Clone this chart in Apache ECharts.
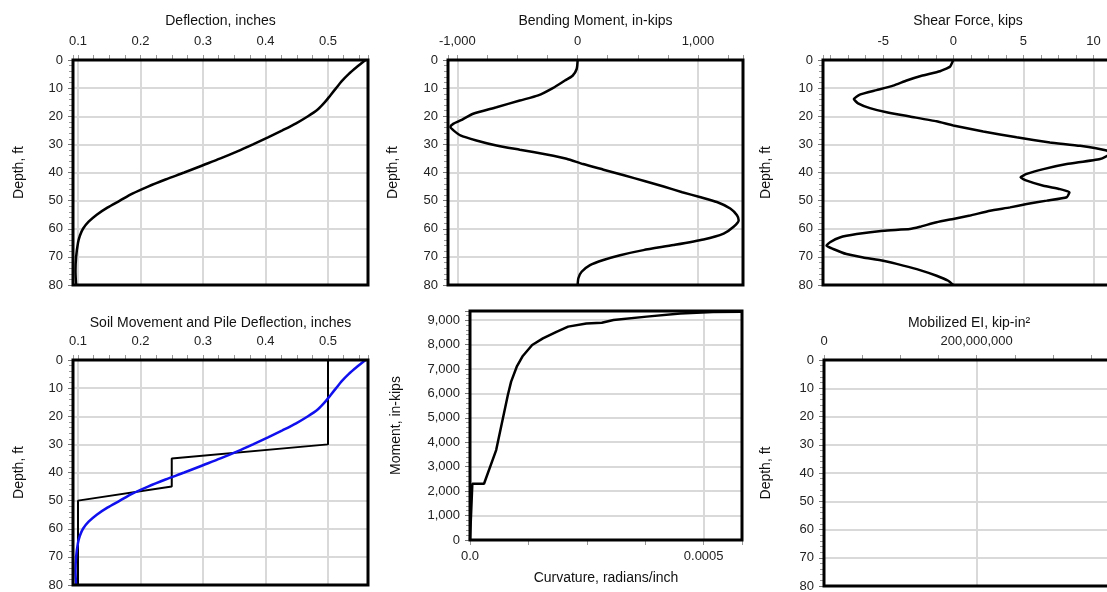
<!DOCTYPE html>
<html>
<head>
<meta charset="utf-8">
<script src="https://cdn.jsdelivr.net/npm/echarts@6/dist/echarts.min.js"></script>
<style>
html,body{margin:0;padding:0;background:#fff;}
#chart{width:1107px;height:592px;}
</style>
</head>
<body>
<div id="chart"></div>
<script>
// ---- Data ----
const depthTicks = [0, 10, 20, 30, 40, 50, 60, 70, 80];

const deflDepth = [0, 2.5, 5, 7.5, 10, 12.5, 15, 17.5, 20, 22.5, 25, 27.5, 30, 32.5, 35, 37.5, 40, 42.5, 45, 47.5, 50, 52.5, 55, 57.5, 60, 62.5, 65, 70, 75, 80];
const deflection = [0.560, 0.546, 0.533, 0.522, 0.513, 0.504, 0.495, 0.484, 0.468, 0.449, 0.427, 0.404, 0.380, 0.355, 0.328, 0.299, 0.270, 0.240, 0.212, 0.187, 0.167, 0.147, 0.130, 0.117, 0.108, 0.103, 0.100, 0.097, 0.096, 0.097];

const momentDepth = [0, 3.2, 5.6, 7.3, 9.9, 12.6, 14.4, 16.8, 19.1, 21.5, 22.7, 23.8, 25.1, 26.8, 28.6, 30.4, 31.9, 33.6, 35.1, 37, 39, 41, 43, 45, 47, 48.7, 50.5, 52.8, 55.2, 57, 59.3, 61.7, 63.8, 65.8, 67.6, 69.4, 71.1, 72.9, 75.3, 77.6, 80];
const moment = [0, -8, -42, -106, -203, -328, -481, -675, -869, -975, -1035, -1058, -1030, -975, -842, -675, -481, -258, -92, 45, 215, 385, 555, 715, 870, 1015, 1158, 1269, 1325, 1339, 1297, 1214, 1047, 797, 547, 353, 214, 103, 33, 6, 0];

const shearDepth = [0, 2.4, 4, 5.6, 7.3, 9.1, 10.7, 12.3, 13.9, 15.4, 17.1, 18.6, 20.1, 21.8, 23.3, 25.4, 27.5, 29.3, 30.5, 32.2, 33.3, 35.2, 37, 38.8, 40.5, 41.7, 42.9, 44.7, 45.9, 47, 48.8, 50, 51.2, 52.4, 53.6, 55.3, 56.5, 57.7, 59.3, 60.1, 60.7, 61.9, 63.1, 64.8, 66, 67.2, 69, 70.2, 71.4, 73.1, 74.7, 76.7, 78.5, 80];
const shear = [0, -0.24, -0.95, -2.26, -3.33, -4.29, -5.48, -6.67, -7.1, -6.8, -5.95, -4.76, -3.1, -1.19, 0, 2.14, 4.52, 6.9, 9.05, 10.95, 11.2, 10.48, 8.1, 6.43, 5.24, 4.8, 5.24, 6.43, 7.62, 8.29, 8.1, 6.67, 5.24, 4.05, 2.62, 1.19, 0, -1.19, -2.38, -3.1, -5.0, -6.9, -8.1, -8.8, -9.05, -8.57, -7.62, -6.43, -5.0, -3.57, -2.38, -1.19, -0.36, 0];

const soilDepth = [0, 30, 35, 45, 50, 80];
const soilMovement = [0.5, 0.5, 0.25, 0.25, 0.1, 0.1];

const curvature = [0, 0.000005, 0.00003, 0.000056, 0.000081, 0.000088, 0.0001, 0.000113, 0.000133, 0.000156, 0.000185, 0.00021, 0.000249, 0.000282, 0.000307, 0.000378, 0.00045, 0.00052, 0.00058];
const mcMoment = [0, 2300, 2300, 3680, 5930, 6480, 7090, 7530, 7980, 8250, 8520, 8730, 8860, 8890, 9000, 9140, 9270, 9330, 9340];

const mobilizedEI = []; // no values plotted

// ---- helpers ----
const FONT = "'Liberation Sans', Arial, sans-serif";
const zip = (xs, ys) => xs.map((x, i) => [x, ys[i]]);
const near = (v, step) => Math.abs(v / step - Math.round(v / step)) < 1e-6;
const fmtComma = v => Math.round(v).toLocaleString('en-US');

const gridStyle = { show: true, borderColor: '#000', borderWidth: 3, backgroundColor: 'transparent', z: 10, outerBoundsMode: 'none', containLabel: false };
const splitLine = { show: true, showMinLine: false, showMaxLine: false, lineStyle: { color: '#d9d9d9', width: 2 } };
const labelStyle = { color: '#222', fontSize: 13, fontFamily: FONT };
const nameStyle = { color: '#111', fontSize: 14, fontFamily: FONT };

function xTop(idx, name, min, max, opts, fmt, gap) {
  return Object.assign({
    type: 'value', gridIndex: idx, position: 'top', min: min, max: max,
    name: name, nameLocation: 'middle', nameGap: gap, nameTextStyle: nameStyle,
    axisLine: { show: false, onZero: false },
    axisTick: { show: true, length: 5, lineStyle: { color: '#999', width: 1 } },
    minorTick: { show: true, splitNumber: 4, length: 5, lineStyle: { color: '#999', width: 1 } },
    splitLine: splitLine,
    axisLabel: Object.assign({ margin: 12, formatter: fmt }, labelStyle)
  }, opts);
}
function yDepth(idx, gap) {
  return {
    type: 'value', gridIndex: idx, inverse: true, min: 0, max: 80, interval: 10,
    name: 'Depth, ft', nameLocation: 'middle', nameGap: gap, nameRotate: 90, nameTextStyle: nameStyle,
    axisLine: { show: false, onZero: false },
    axisTick: { show: true, length: 5, lineStyle: { color: '#777', width: 1 } },
    minorTick: { show: true, splitNumber: 5, length: 4, lineStyle: { color: '#999', width: 1 } },
    splitLine: splitLine,
    axisLabel: Object.assign({ margin: 10, formatter: v => (depthTicks.indexOf(v) >= 0 ? String(v) : '') }, labelStyle)
  };
}

const fmtDefl = v => near(v, 0.1) ? (Math.round(v * 10) / 10).toFixed(1) : '';

const option = {
  animation: false,
  backgroundColor: '#fff',
  grid: [
    Object.assign({ left: 73, top: 60, width: 295, height: 225 }, gridStyle),
    Object.assign({ left: 448, top: 60, width: 295, height: 225 }, gridStyle),
    Object.assign({ left: 823, top: 60, right: -6, height: 225 }, gridStyle),
    Object.assign({ left: 73, top: 360, width: 295, height: 225 }, gridStyle),
    Object.assign({ left: 470, top: 311, width: 272, height: 229 }, gridStyle),
    Object.assign({ left: 824, top: 360, right: -7, height: 226 }, gridStyle)
  ],
  xAxis: [
    xTop(0, 'Deflection, inches', 0.092, 0.564, { splitNumber: 5 }, fmtDefl, 32),
    xTop(1, 'Bending Moment, in-kips', -1078, 1375, { splitNumber: 2 }, v => near(v, 1000) ? fmtComma(v) : '', 32),
    xTop(2, 'Shear Force, kips', -9.3, 11.4, { splitNumber: 4 }, v => near(v, 5) ? String(Math.round(v)) : '', 32),
    xTop(3, 'Soil Movement and Pile Deflection, inches', 0.092, 0.564, { splitNumber: 5 }, fmtDefl, 30),
    {
      type: 'value', gridIndex: 4, position: 'bottom', min: 0, max: 0.000582, interval: 0.0005,
      name: 'Curvature, radians/inch', nameLocation: 'middle', nameGap: 31, nameTextStyle: nameStyle,
      axisLine: { show: false, onZero: false },
      axisTick: { show: true, length: 5, lineStyle: { color: '#999', width: 1 } },
      minorTick: { show: true, splitNumber: 4, length: 5, lineStyle: { color: '#999', width: 1 } },
      splitLine: splitLine,
      axisLabel: Object.assign({ margin: 10, formatter: v => v === 0 ? '0.0' : (Math.abs(v - 0.0005) < 1e-10 ? '0.0005' : '') }, labelStyle)
    },
    xTop(5, 'Mobilized EI, kip-in²', 0, 380000000, { interval: 200000000 }, v => near(v, 200000000) ? fmtComma(v) : '', 30)
  ],
  yAxis: [
    yDepth(0, 47),
    yDepth(1, 48),
    yDepth(2, 50),
    yDepth(3, 47),
    {
      type: 'value', gridIndex: 4, min: 0, max: 9370, interval: 1000,
      name: 'Moment, in-kips', nameLocation: 'middle', nameGap: 67, nameRotate: 90, nameTextStyle: nameStyle,
      axisLine: { show: false, onZero: false },
      axisTick: { show: true, length: 5, lineStyle: { color: '#777', width: 1 } },
      minorTick: { show: true, splitNumber: 5, length: 4, lineStyle: { color: '#999', width: 1 } },
      splitLine: splitLine,
      axisLabel: Object.assign({ margin: 10, formatter: v => near(v, 1000) ? fmtComma(v) : '' }, labelStyle)
    },
    yDepth(5, 51)
  ],
  series: [
    { type: 'line', xAxisIndex: 0, yAxisIndex: 0, data: zip(deflection, deflDepth), showSymbol: false, smooth: 0.3,
      lineStyle: { color: '#000', width: 2.5 }, z: 3 },
    { type: 'line', xAxisIndex: 1, yAxisIndex: 1, data: zip(moment, momentDepth), showSymbol: false, smooth: 0.2,
      lineStyle: { color: '#000', width: 2.5 }, z: 3 },
    { type: 'line', xAxisIndex: 2, yAxisIndex: 2, data: zip(shear, shearDepth), showSymbol: false, smooth: 0.15,
      lineStyle: { color: '#000', width: 2.5 }, z: 3 },
    { type: 'line', xAxisIndex: 3, yAxisIndex: 3, data: zip(soilMovement, soilDepth), showSymbol: false,
      lineStyle: { color: '#000', width: 2 }, z: 3 },
    { type: 'line', xAxisIndex: 3, yAxisIndex: 3, data: zip(deflection, deflDepth), showSymbol: false, smooth: 0.3,
      lineStyle: { color: '#1010ee', width: 2.5 }, z: 4 },
    { type: 'line', xAxisIndex: 4, yAxisIndex: 4, data: zip(curvature, mcMoment), showSymbol: false,
      lineStyle: { color: '#000', width: 2.5 }, z: 3 },
    { type: 'line', xAxisIndex: 5, yAxisIndex: 5, data: mobilizedEI, showSymbol: false,
      lineStyle: { color: '#000', width: 2.5 }, z: 3 }
  ]
};

const chart = echarts.init(document.getElementById('chart'), null, { renderer: 'canvas' });
chart.setOption(option);
</script>
</body>
</html>
